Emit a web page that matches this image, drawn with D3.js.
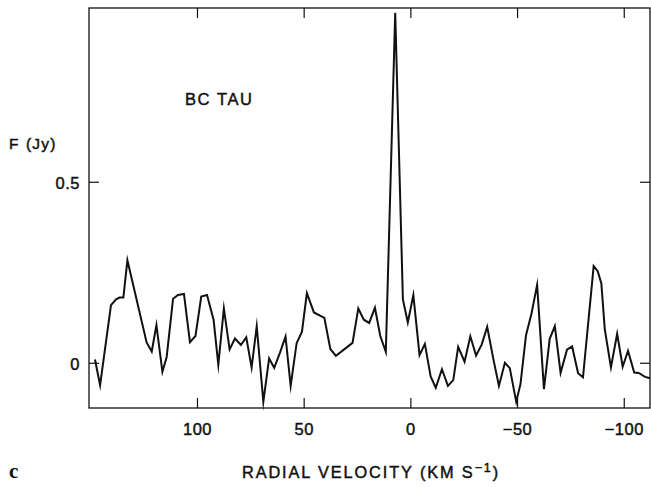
<!DOCTYPE html>
<html>
<head>
<meta charset="utf-8">
<script src="https://cdn.jsdelivr.net/npm/d3@7"></script>
<style>
  html, body { margin: 0; padding: 0; background: #fff; }
  svg { display: block; }
  text { font-family: "Liberation Sans", Arial, Helvetica, sans-serif; fill: #111; stroke: #111; stroke-width: 0.45px; }
</style>
</head>
<body>
<svg id="chart" width="651" height="487"></svg>
<script>
// Radial velocity (km/s) of each channel
const velocity = [147.8,145.4,140.3,137.9,136.3,134.5,132.6,123.6,121.2,119.0,116.2,114.2,111.2,108.9,106.1,103.3,100.7,98.0,95.3,92.2,90.0,87.4,84.7,82.2,79.4,76.9,74.4,72.0,68.9,66.2,63.8,61.1,58.5,56.1,53.3,50.8,48.5,45.2,40.3,37.5,34.9,27.1,24.4,21.8,19.3,16.6,14.1,11.5,7.1,6.5,3.5,1.2,-1.4,-4.3,-6.8,-9.5,-11.9,-14.8,-17.6,-20.1,-22.4,-25.4,-28.1,-30.8,-33.4,-36.0,-38.9,-41.5,-44.3,-46.6,-49.6,-51.6,-54.2,-56.8,-59.4,-62.6,-65.3,-67.7,-70.4,-73.4,-75.8,-78.6,-80.9,-85.9,-87.8,-89.5,-91.1,-94.0,-96.9,-99.5,-102.0,-104.9,-107.0,-110.0,-112.3];
// Flux density (Jy)
const flux = [0.009,-0.062,0.159,0.175,0.180,0.180,0.283,0.056,0.031,0.104,-0.025,0.016,0.177,0.187,0.190,0.057,0.074,0.183,0.187,0.118,-0.006,0.150,0.037,0.067,0.049,0.070,-0.013,0.101,-0.108,0.012,-0.014,0.028,0.072,-0.064,0.054,0.086,0.192,0.139,0.124,0.038,0.019,0.055,0.150,0.119,0.110,0.152,0.074,0.030,0.967,0.836,0.175,0.111,0.187,0.021,0.052,-0.038,-0.069,-0.018,-0.064,-0.048,0.044,0.003,0.073,0.020,0.050,0.099,0.010,-0.064,0.000,-0.015,-0.108,-0.059,0.076,0.137,0.215,-0.073,0.066,0.101,-0.028,0.036,0.045,-0.029,-0.040,0.267,0.253,0.219,0.093,-0.013,0.080,-0.011,0.033,-0.027,-0.028,-0.039,-0.043];
const xTicks = [100, 50, 0, -50, -100];
const xTickLabels = ["100", "50", "0", "\u221250", "\u2212100"];
const yTicks = [0, 0.5];
const yTickLabels = ["0", "0.5"];
const xDomain = [150.6, -112.3];
const yDomain = [-0.125, 0.98];

const svg = d3.select("#chart");
const L = 89, R = 650, T = 8, B = 408;
const x = d3.scaleLinear().domain(xDomain).range([L, R]);
const y = d3.scaleLinear().domain(yDomain).range([B, T]);
const ink = "#111";
const tickLen = 10;

// frame
svg.append("rect").attr("x", L).attr("y", T).attr("width", R - L).attr("height", B - T)
  .attr("fill", "none").attr("stroke", ink).attr("stroke-width", 1.3);

// axes with inward ticks
const gB = svg.append("g").attr("transform", `translate(0,${B})`)
  .call(d3.axisBottom(x).tickValues(xTicks).tickSize(-tickLen).tickPadding(15)
    .tickFormat((d, i) => xTickLabels[i]));
const gT = svg.append("g").attr("transform", `translate(0,${T})`)
  .call(d3.axisTop(x).tickValues(xTicks).tickSize(-tickLen).tickFormat(""));
const gL = svg.append("g").attr("transform", `translate(${L},0)`)
  .call(d3.axisLeft(y).tickValues(yTicks).tickSize(-tickLen).tickPadding(9)
    .tickFormat((d, i) => yTickLabels[i]));
const gR = svg.append("g").attr("transform", `translate(${R},0)`)
  .call(d3.axisRight(y).tickValues(yTicks).tickSize(-tickLen).tickFormat(""));
[gB, gT, gL, gR].forEach(g => {
  g.select(".domain").remove();
  g.selectAll(".tick line").attr("stroke", ink).attr("stroke-width", 1.2);
  g.selectAll(".tick text").style("font-family", '"Liberation Sans", Arial, sans-serif')
    .style("font-size", "16.5px").attr("fill", ink).style("letter-spacing", "0.5px");
});
gL.selectAll(".tick text").attr("dy", "0.38em");

// data line
const line = d3.line().x((d, i) => x(velocity[i])).y(d => y(d));
svg.append("path").datum(flux).attr("d", line)
  .attr("fill", "none").attr("stroke", ink).attr("stroke-width", 2)
  .attr("stroke-linejoin", "miter").attr("stroke-miterlimit", 10);

// labels
svg.append("text").attr("x", 185).attr("y", 105).style("font-size", "16.5px")
  .style("letter-spacing", "1.6px").text("BC TAU");
const fl = svg.append("text").attr("x", 9).attr("y", 149).style("font-size", "15.5px")
  .style("letter-spacing", "1.2px");
fl.append("tspan").text("F");
fl.append("tspan").attr("x", 26).text("(Jy)");
svg.append("text").attr("x", 9).attr("y", 478)
  .style("font-family", '"Liberation Serif", "Times New Roman", serif')
  .style("font-weight", "bold").style("font-size", "21px").style("stroke-width", "0")
  .text("c");
const xl = svg.append("text").attr("x", 242).attr("y", 478).style("font-size", "16.3px")
  .style("letter-spacing", "1.9px");
xl.append("tspan").text("RADIAL VELOCITY (KM S");
xl.append("tspan").attr("dy", -6).style("font-size", "12.5px").text("\u22121");
xl.append("tspan").attr("dy", 6).text(")");
</script>
</body>
</html>
